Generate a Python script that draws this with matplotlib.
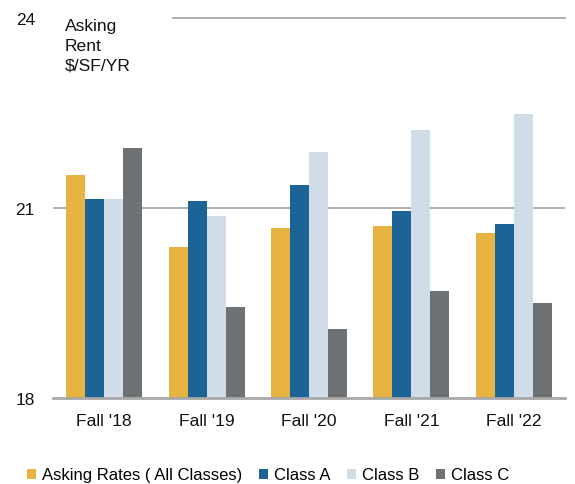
import numpy as np
import matplotlib
matplotlib.use("Agg")
import matplotlib.pyplot as plt
from matplotlib.patches import Patch

# Asking rent by building class, $/SF/YR
periods = ["Fall '18", "Fall '19", "Fall '20", "Fall '21", "Fall '22"]
series_names = ["Asking Rates ( All Classes)", "Class A", "Class B", "Class C"]
all_classes = [21.52, 20.38, 20.69, 20.71, 20.61]
class_a = [21.15, 21.11, 21.36, 20.95, 20.74]
class_b = [21.15, 20.88, 21.88, 22.23, 22.49]
class_c = [21.95, 19.44, 19.09, 19.69, 19.50]
y_ticks = [18, 21, 24]

colors = ["#E8B441", "#1D6496", "#D0DCE7", "#6D7174"]
series = [all_classes, class_a, class_b, class_c]

plt.rcParams["font.family"] = ["Liberation Sans", "DejaVu Sans"]
fig = plt.figure(figsize=(5.75, 4.85), dpi=100)
ax = fig.add_axes([53 / 575, 1 - 399 / 485, 512 / 575, 380 / 485])

x = np.arange(len(periods))
w = 0.186
for i, (vals, c) in enumerate(zip(series, colors)):
    ax.bar(x + (i - 1.5) * w, np.array(vals) - 18, bottom=18, width=w,
           color=c, zorder=3, linewidth=0)

ax.set_xlim(-0.5, len(periods) - 0.5)
ax.set_ylim(18, 24)

# gridlines
ax.axhline(21, color="#A8A8A8", lw=1.3, zorder=1)
ax.axhline(24, xmin=120 / 512, xmax=1, color="#A8A8A8", lw=1.3, zorder=1, clip_on=False)
ax.axhline(18, color="#A8A8A8", lw=2.0, zorder=4, clip_on=False)

for s in ax.spines.values():
    s.set_visible(False)

ax.set_yticks(y_ticks)
ax.set_yticklabels([str(t) for t in y_ticks], fontsize=12.4, color="#111111")
ax.set_xticks(x)
ax.set_xticklabels(periods, fontsize=12.6, color="#111111")
ax.tick_params(axis="y", length=0, pad=13)
ax.tick_params(axis="x", length=0, pad=11)

fig.text(65 / 575, 1 - 19 / 485, "Asking\nRent\n$/SF/YR", fontsize=12.6,
         va="top", ha="left", linespacing=1.38, color="#111111")

handles = [Patch(facecolor=c, edgecolor="none") for c in colors]
fig.legend(handles, series_names, loc="center", bbox_to_anchor=(268 / 575, 1 - 476 / 485),
           ncol=4, frameon=False, fontsize=12, handlelength=0.55, handleheight=0.55,
           handletextpad=0.35, columnspacing=1.0, borderaxespad=0)

fig.savefig("out.png", dpi=100)
